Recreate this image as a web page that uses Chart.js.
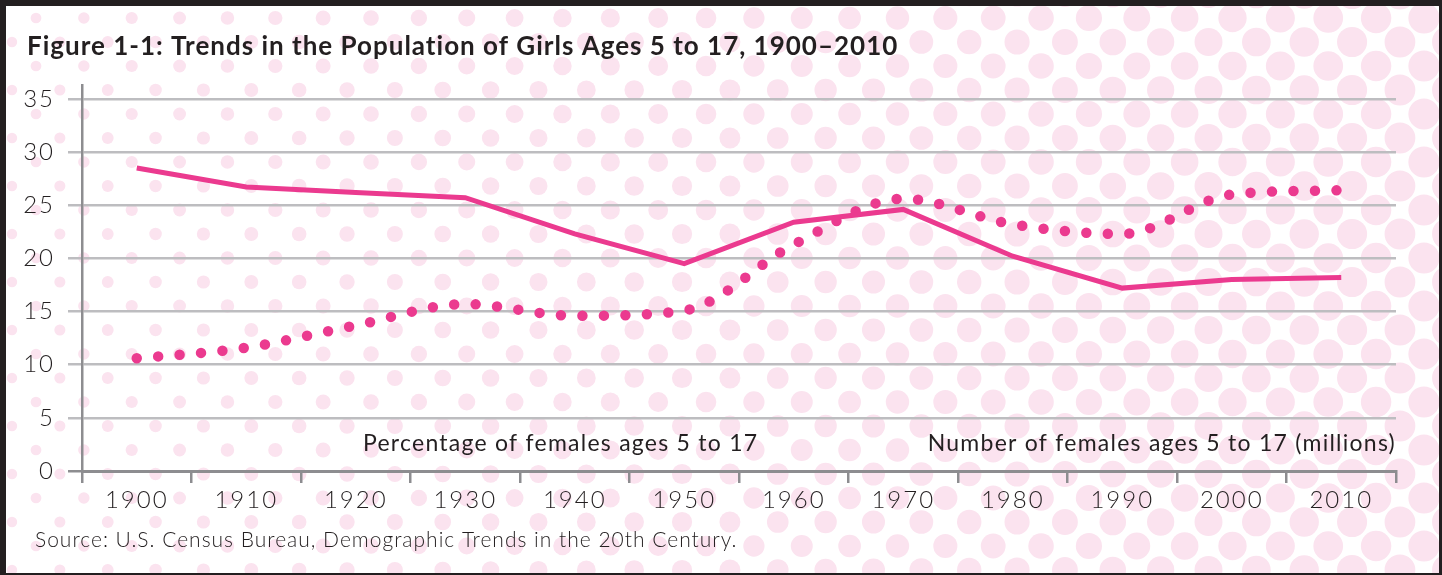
<!DOCTYPE html>
<html>
<head>
<meta charset="utf-8">
<script src="https://cdn.jsdelivr.net/npm/chart.js@4.4.0/dist/chart.umd.min.js"></script>
<style>
  html, body { margin: 0; padding: 0; background: #fff; }
  #wrap { position: relative; width: 1442px; height: 575px; }
  #frame {
    position: absolute; left: 0; top: 0; width: 1442px; height: 575px;
    box-sizing: border-box; border-style: solid; border-color: #231f20;
    border-width: 6px 3px 2px 6px; pointer-events: none;
  }
</style>
</head>
<body>
<div id="wrap">
  <canvas id="grafico" width="1442" height="575"></canvas>
  <div id="frame"></div>
</div>
<script>
// dados
var anos = ['1900', '1910', '1920', '1930', '1940', '1950', '1960', '1970', '1980', '1990', '2000', '2010'];
var numeroMilhoes = [28.5, 26.7, 26.2, 25.7, 22.3, 19.5, 23.4, 24.6, 20.2, 17.2, 18.0, 18.2];
var percentual = [10.6, 11.6, 13.7, 15.7, 14.6, 15.1, 21.3, 25.6, 23.2, 22.3, 26.0, 26.4];
var ticksY = [0, 5, 10, 15, 20, 25, 30, 35];

var titulo = 'Figure 1-1: Trends in the Population of Girls Ages 5 to 17, 1900\u20132010';
var fonte = 'Source: U.S. Census Bureau, Demographic Trends in the 20th Century.';
var rotuloPercentual = 'Percentage of females ages 5 to 17';
var rotuloNumero = 'Number of females ages 5 to 17 (millions)';

var rosa = '#eb3a8f';
var texto = '#231f20';
var cinzaGrade = '#bdbdc0';
var cinzaEixo = '#8d8d90';

// fundo de bolinhas rosa (decorativo)
var fundoBolinhas = {
  id: 'fundoBolinhas',
  beforeDraw: function (chart) {
    var ctx = chart.ctx;
    ctx.save();
    ctx.fillStyle = '#ffffff';
    ctx.fillRect(0, 0, chart.width, chart.height);
    ctx.fillStyle = '#fbe3ef';
    for (var j = -1; j < 26; j++) {
      var y = 18 + 24 * j;
      var x0 = (j % 2 === 0) ? 36 : 12;
      for (var i = -1; i < 32; i++) {
        var x = x0 + 47.86 * i;
        var r = 5.1 + 0.00735 * x;
        if (r < 3) r = 3;
        ctx.beginPath();
        ctx.arc(x, y, r, 0, Math.PI * 2);
        ctx.fill();
      }
    }
    ctx.restore();
    // espacamento das letras dos ticks
    ctx.letterSpacing = '2px';
  }
};

var textos = {
  id: 'textos',
  afterDraw: function (chart) {
    var ctx = chart.ctx;
    var area = chart.chartArea;
    ctx.save();
    ctx.fillStyle = texto;
    ctx.textBaseline = 'alphabetic';

    ctx.font = 'bold 26px Lato';
    ctx.letterSpacing = '1px';
    ctx.textAlign = 'left';
    ctx.fillText(titulo, 27, 55);

    ctx.font = '23px Lato';
    ctx.letterSpacing = '1.25px';
    ctx.fillText(rotuloPercentual, 363, 451);
    ctx.textAlign = 'right';
    ctx.fillText(rotuloNumero, area.right, 451);

    ctx.font = '300 21px Lato';
    ctx.letterSpacing = '1px';
    ctx.textAlign = 'left';
    ctx.fillText(fonte, 35, 547);
    ctx.restore();
  }
};

const dash = document.getElementById('grafico');

new Chart(dash, {
  type: 'line',
  data: {
    labels: anos,
    datasets: [
      {
        label: rotuloNumero,
        data: numeroMilhoes,
        borderColor: rosa,
        borderWidth: 5,
        pointRadius: 0,
        tension: 0,
        fill: false
      },
      {
        label: rotuloPercentual,
        data: percentual,
        borderColor: rosa,
        borderWidth: 10.5,
        borderDash: [0, 21.5],
        borderCapStyle: 'round',
        pointRadius: 0,
        cubicInterpolationMode: 'monotone',
        fill: false
      }
    ]
  },
  options: {
    responsive: false,
    animation: false,
    devicePixelRatio: 1,
    layout: {
      padding: { left: 0, right: 46, top: 85, bottom: 64 }
    },
    scales: {
      x: {
        offset: true,
        afterFit: function (scale) { scale.height = 40; },
        grid: {
          offset: true,
          drawOnChartArea: false,
          drawTicks: true,
          tickLength: 12,
          color: cinzaEixo,
          lineWidth: 2.5
        },
        border: { display: true, color: cinzaEixo, width: 3 },
        ticks: {
          color: texto,
          padding: 3,
          maxRotation: 0,
          font: { family: 'Lato', size: 24, weight: '300' }
        }
      },
      y: {
        min: 0,
        max: 36.3,
        afterFit: function (scale) { scale.width = 82; },
        afterBuildTicks: function (axis) {
          axis.ticks = ticksY.map(function (v) { return { value: v }; });
        },
        grid: {
          color: function (c) { return c.tick && c.tick.value === 0 ? cinzaEixo : cinzaGrade; },
          lineWidth: 2.5,
          drawTicks: true,
          tickLength: 14
        },
        border: { display: true, color: cinzaEixo, width: 2.5 },
        ticks: {
          color: texto,
          padding: 13,
          font: { family: 'Lato', size: 24, weight: '300' }
        }
      }
    },
    plugins: {
      legend: { display: false },
      tooltip: { enabled: false },
      title: { display: false }
    }
  },
  plugins: [fundoBolinhas, textos]
});
</script>
</body>
</html>
